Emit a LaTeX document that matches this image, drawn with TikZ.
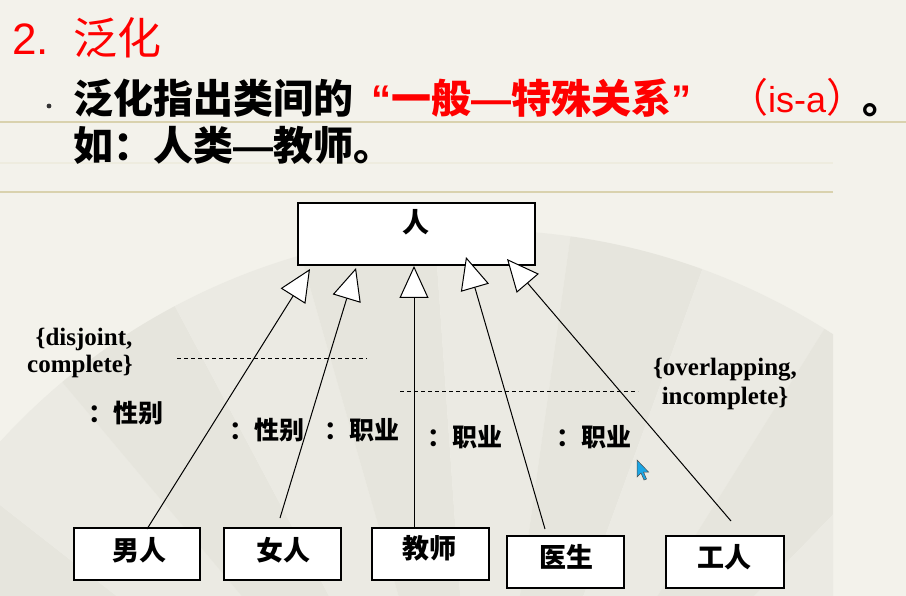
\documentclass[tikz,border=0pt]{standalone}
\usepackage{fontspec}
\setmainfont{Liberation Serif}
\newfontfamily\cjk{Noto Sans CJK SC}
\newfontfamily\arial{Liberation Sans}
\newcommand\widedash{{\arial\bfseries —}}
\usetikzlibrary{arrows.meta}

\definecolor{paper}{HTML}{F3F2EB}
\definecolor{fanA}{HTML}{EBEAE3}
\definecolor{fanB}{HTML}{E6E5DD}
\definecolor{rule}{HTML}{D9D2AE}
\definecolor{cursorblue}{HTML}{1AA6E6}

\begin{document}
\begin{tikzpicture}[x=1pt,y=-1pt,
  box/.style={draw=black, line width=1.2pt, fill=white, inner sep=0pt},
  boxtxt/.style={font=\fontsize{27}{27}\selectfont\cjk\bfseries, inner sep=0pt},
  role/.style={font=\fontsize{25}{25}\selectfont\cjk\bfseries, inner sep=0pt, anchor=west},
  note/.style={font=\fontsize{25}{25}\selectfont\bfseries, inner sep=0pt, anchor=base},
  gen/.style={line width=1pt, -{Triangle[length=32pt,width=29pt,fill=white,line width=1pt]}},
  sep/.style={line width=0.8pt, dash pattern=on 4pt off 3pt},
  headline/.style={inner sep=0pt, anchor=base west},
]
\useasboundingbox (0,0) rectangle (906,596);

% slide background with a faint fan
\fill[paper] (0,0) rectangle (906,596);
\begin{scope}
  \clip (0,196) rectangle (833,596);
  \foreach \a [count=\i] in {-190,-178,...,-10} {
    \pgfmathtruncatemacro{\odd}{mod(\i,2)}
    \ifnum\odd=1
      \fill[fanA] (480,880) -- ++(\a:650) arc[start angle=\a, end angle=\a+12, radius=650] -- cycle;
    \else
      \fill[fanB] (480,880) -- ++(\a:650) arc[start angle=\a, end angle=\a+12, radius=650] -- cycle;
    \fi
  }
\end{scope}
\draw[rule, line width=1.6pt] (0,122) -- (906,122);
\draw[rule!20!paper, line width=1.4pt] (0,163) -- (833,163);
\draw[rule, line width=1.6pt] (0,192) -- (833,192);

% heading
\node[headline, font=\fontsize{44}{44}\selectfont\arial, text=red] (num) at (12,55) {2.};
\node[headline, font=\fontsize{44}{44}\selectfont\cjk, text=red] (ttl) at (73,55) {泛化};

% bullet text
\fill[black!80] (49,106) circle (2.4);
\node[headline, font=\fontsize{40}{40}\selectfont\cjk\bfseries] (l1a) at (73,114) {泛化指出类间的};
\node[headline, font=\fontsize{40}{40}\selectfont\cjk\bfseries, text=red] (l1b) at (371,114) {{\arial “}一般\widedash 特殊关系{\arial ”}};
\node[headline, font=\fontsize{40}{40}\selectfont\cjk, text=red] (l1c) at (728,113) {（{\arial\fontsize{36}{36}\selectfont is-a}）};
\node[headline, font=\fontsize{40}{40}\selectfont\cjk\bfseries] (l1d) at (862,114) {。};
\node[headline, font=\fontsize{40}{40}\selectfont\cjk\bfseries] (l2) at (73,161) {如：人类\widedash 教师。};

% class boxes
\node[box, minimum width=237pt, minimum height=62pt] (ren) at (416.5,234) {};
\node[box, minimum width=126pt, minimum height=52pt] (nan) at (137,554) {};
\node[box, minimum width=117pt, minimum height=52pt] (nv) at (282.5,554) {};
\node[box, minimum width=117pt, minimum height=52pt] (js) at (430.5,554) {};
\node[box, minimum width=117pt, minimum height=52pt] (ys) at (565.5,562) {};
\node[box, minimum width=118pt, minimum height=52pt] (gr) at (725,562) {};

\node[boxtxt] (renT) at (416,222) {人};
\node[boxtxt] (nanT) at (139,550) {男人};
\node[boxtxt] (nvT) at (283,550) {女人};
\node[boxtxt] (jsT) at (429,548) {教师};
\node[boxtxt] (ysT) at (566,557) {医生};
\node[boxtxt] (grT) at (724,557) {工人};

% generalization connectors
\coordinate (nanUp) at (147,529);  \coordinate (renA) at (310,269);
\coordinate (nvUp) at (280,518);   \coordinate (renB) at (356,268);
\coordinate (jsUp) at (414,528);   \coordinate (renC) at (414,266);
\coordinate (ysUp) at (545,529);   \coordinate (renD) at (466,257);
\coordinate (grUp) at (731,521);   \coordinate (renE) at (507,259);
\draw[gen] (nanUp) -- (renA);
\draw[gen] (nvUp) -- (renB);
\draw[gen] (jsUp) -- (renC);
\draw[gen] (ysUp) -- (renD);
\draw[gen] (grUp) -- (renE);

% discriminator separators
\coordinate (sepAl) at (177,358); \coordinate (sepAr) at (367,358);
\coordinate (sepBl) at (400,391); \coordinate (sepBr) at (638,391);
\draw[sep] (sepAl) -- (sepAr);
\draw[sep] (sepBl) -- (sepBr);

% constraints
\node[note] (cA1) at (84,346) {\{disjoint,};
\node[note] (cA2) at (80,373) {complete\}};
\node[note] (cB1) at (725,376) {\{overlapping,};
\node[note] (cB2) at (725,404) {incomplete\}};

% discriminator labels
\node[role] (r1) at (88,413) {：性别};
\node[role] (r2) at (229,430) {：性别};
\node[role] (r3) at (324,430) {：职业};
\node[role] (r4) at (427,437) {：职业};
\node[role] (r5) at (556,437) {：职业};

% pointer
\filldraw[fill=cursorblue, draw=black!70, line width=0.5pt]
  (637,460) -- (637,477) -- (641,473) -- (644,480) -- (646.5,479) -- (643.5,472) -- (648.5,472) -- cycle;
\end{tikzpicture}
\end{document}
